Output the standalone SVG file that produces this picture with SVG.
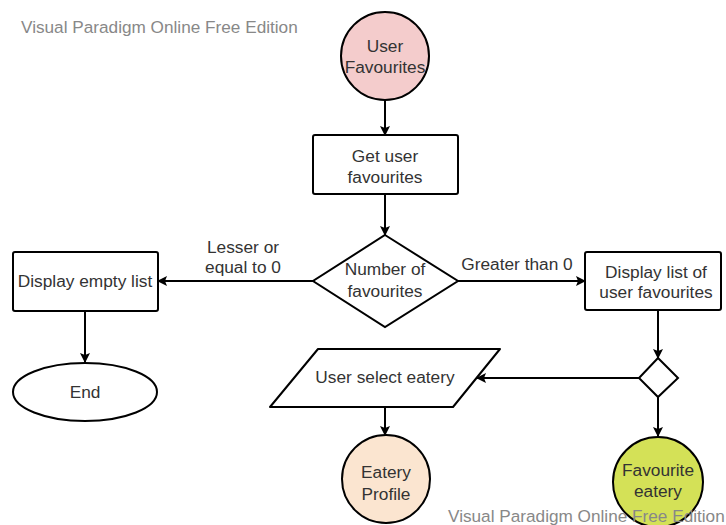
<svg xmlns="http://www.w3.org/2000/svg" width="726" height="525" viewBox="0 0 726 525">
  <defs>
    <style>
      .shape { stroke: #000; stroke-width: 2; fill: #fff; }
      .edge { stroke: #000; stroke-width: 2; fill: none; marker-end: url(#arrow); }
      text { font-family: "Liberation Sans", Arial, sans-serif; font-size: 17.3px; fill: #333; text-anchor: middle; }
      .wm { fill: #888; text-anchor: start; font-size: 17.2px; }
    </style>
    <marker id="arrow" viewBox="0 0 10 10" refX="9" refY="5" markerWidth="10" markerHeight="10" markerUnits="userSpaceOnUse" orient="auto">
      <path d="M0,0 L10,5 L0,10 L2,5 Z" fill="#000"/>
    </marker>
  </defs>
  <rect width="726" height="525" fill="#fff"/>

  <!-- edition banners -->
  <text class="wm" x="21" y="33">Visual Paradigm Online Free Edition</text>

  <!-- connectors -->
  <g id="connectors">
    <line class="edge" x1="385" y1="100" x2="385" y2="135"/>
    <line class="edge" x1="385" y1="194" x2="385" y2="235"/>
    <line class="edge" x1="313" y1="281" x2="158" y2="281"/>
    <line class="edge" x1="458" y1="281" x2="585" y2="281"/>
    <line class="edge" x1="85" y1="311" x2="85" y2="362"/>
    <line class="edge" x1="658" y1="310" x2="658" y2="358"/>
    <line class="edge" x1="639" y1="378" x2="477" y2="378"/>
    <line class="edge" x1="658" y1="397" x2="658" y2="436"/>
    <line class="edge" x1="385" y1="407" x2="385" y2="435"/>
    <text x="243" y="253">Lesser or</text>
    <text x="243" y="273">equal to 0</text>
    <text x="517" y="270">Greater than 0</text>
  </g>

  <g id="user-favourites">
    <circle class="shape" cx="385" cy="56" r="44" style="fill:#f4cccc"/>
    <text x="385" y="52">User</text>
    <text x="385" y="73">Favourites</text>
  </g>

  <g id="get-user-favourites">
    <rect class="shape" x="313" y="135" width="145" height="59" rx="2"/>
    <text x="385" y="162">Get user</text>
    <text x="385" y="183">favourites</text>
  </g>

  <g id="number-of-favourites">
    <polygon class="shape" points="385,235 458,281 385,327 313,281"/>
    <text x="385" y="275">Number of</text>
    <text x="385" y="297">favourites</text>
  </g>

  <g id="display-empty-list">
    <rect class="shape" x="13" y="252" width="145" height="59" rx="2"/>
    <text x="85" y="287">Display empty list</text>
  </g>

  <g id="end">
    <ellipse class="shape" cx="85" cy="392" rx="72" ry="29"/>
    <text x="85" y="398">End</text>
  </g>

  <g id="display-list">
    <rect class="shape" x="585" y="252" width="136" height="58" rx="2"/>
    <text x="656" y="278">Display list of</text>
    <text x="656" y="298">user favourites</text>
  </g>

  <g id="choice">
    <polygon class="shape" points="658,358 678,378 658,397 639,378"/>
  </g>

  <g id="user-select-eatery">
    <polygon class="shape" points="318,349 500,349 453,407 270,407" stroke-linejoin="round"/>
    <text x="385" y="383">User select eatery</text>
  </g>

  <g id="eatery-profile">
    <circle class="shape" cx="386" cy="479" r="44" style="fill:#fbe5d0"/>
    <text x="386" y="478">Eatery</text>
    <text x="386" y="500">Profile</text>
  </g>

  <g id="favourite-eatery">
    <circle class="shape" cx="658" cy="482" r="45" style="fill:#d4e157"/>
    <text x="658" y="476">Favourite</text>
    <text x="658" y="497">eatery</text>
  </g>

  <text class="wm" x="448" y="522">Visual Paradigm Online Free Edition</text>
</svg>
